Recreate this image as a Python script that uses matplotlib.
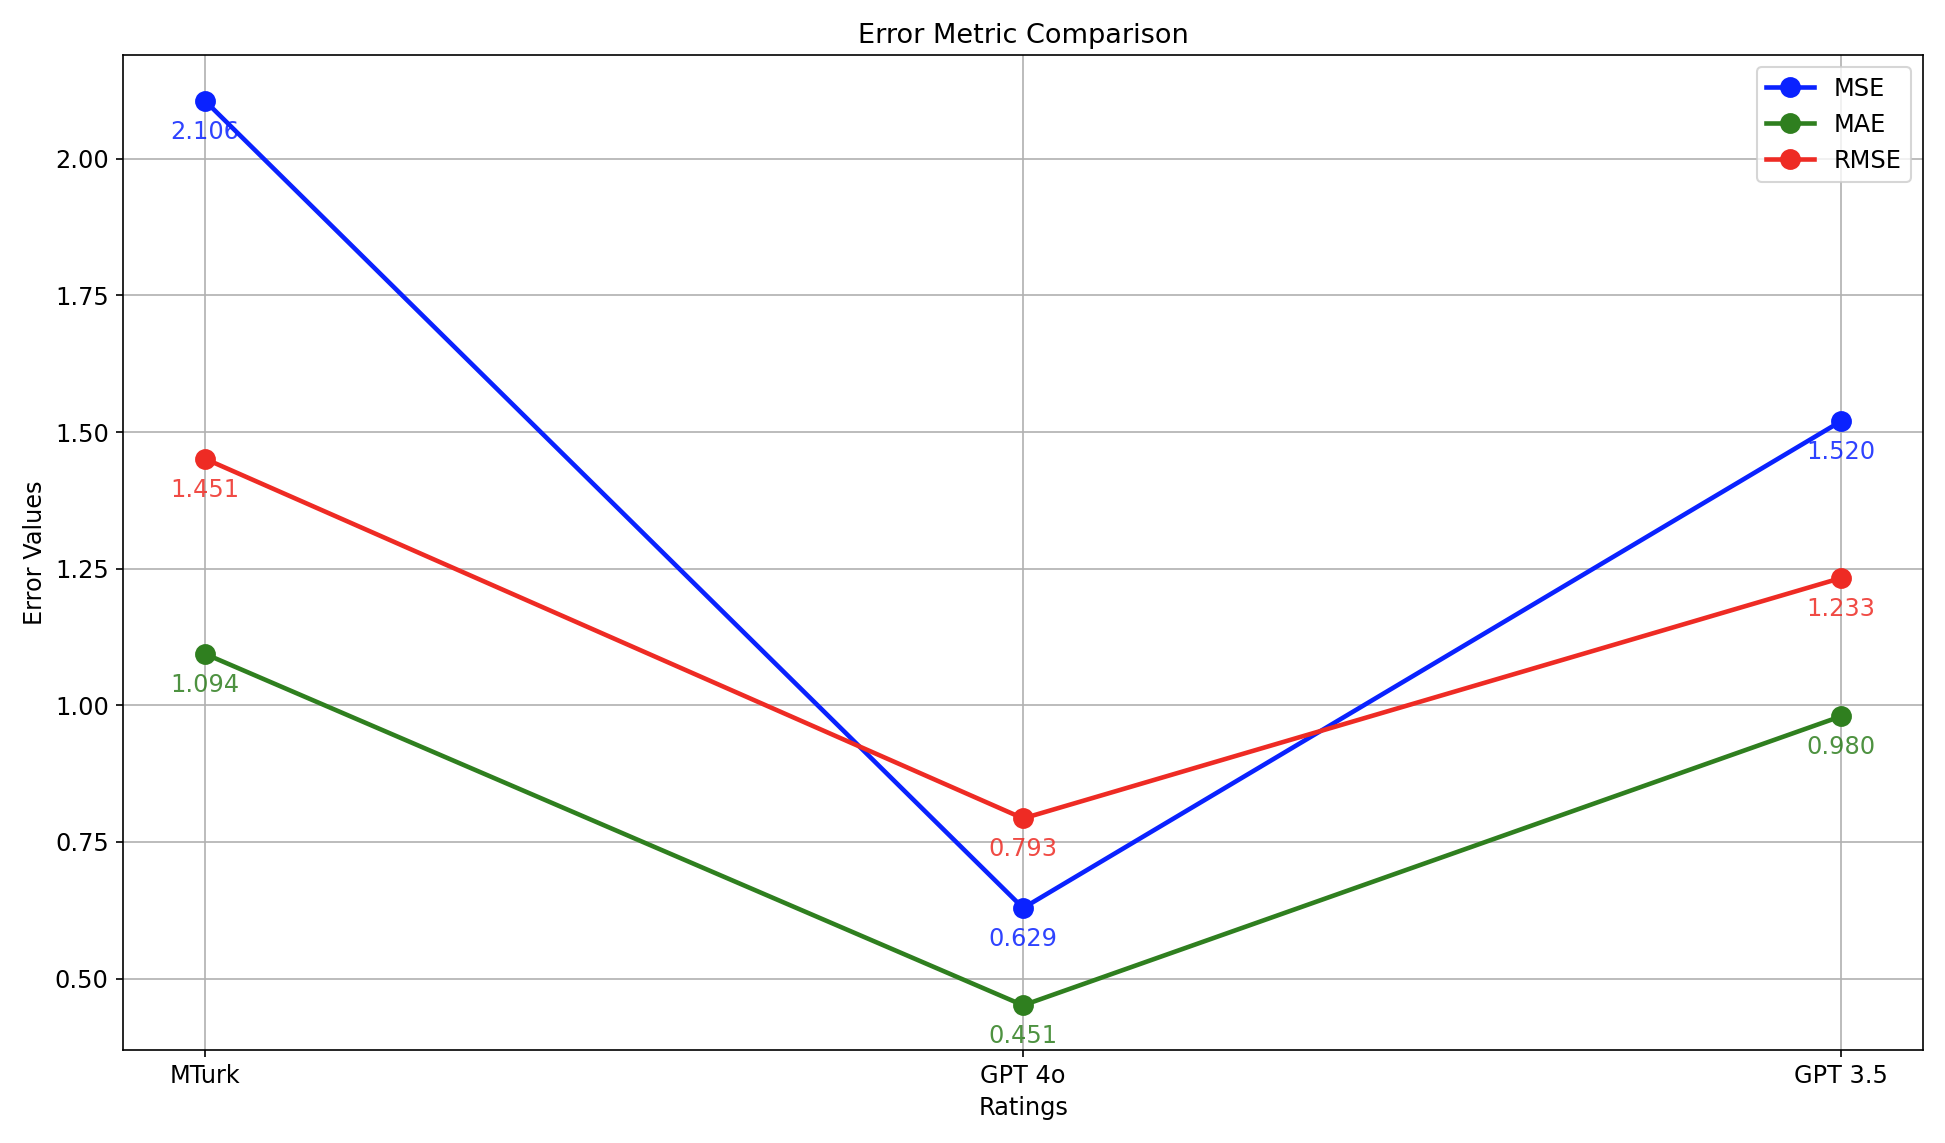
import matplotlib
matplotlib.use("Agg")
import matplotlib.pyplot as plt

# data
models = ["MTurk", "GPT 4o", "GPT 3.5"]
mse = [2.106, 0.629, 1.520]
mae = [1.094, 0.451, 0.980]
rmse = [1.451, 0.793, 1.233]

series = [("MSE", mse, "#0a22ff"), ("MAE", mae, "#2f7f1f"), ("RMSE", rmse, "#ee2b24")]

fig, ax = plt.subplots(figsize=(12.97, 7.62), dpi=150)

for name, vals, col in series:
    ax.plot(models, vals, "-o", color=col, lw=2.2, ms=9, label=name)
    for x, v in zip(models, vals):
        ax.annotate("{0:.3f}".format(v), (x, v), xytext=(0, -9), textcoords="offset points",
                    ha="center", va="top", color=col, fontsize=11.5, alpha=0.85)

ax.set_title("Error Metric Comparison", fontsize=13)
ax.set_xlabel("Ratings", fontsize=11.5)
ax.set_ylabel("Error Values", fontsize=11.5)
ax.tick_params(labelsize=11.5)
ax.set_yticks([0.5, 0.75, 1.0, 1.25, 1.5, 1.75, 2.0])
ax.set_ylim(0.37, 2.19)
ax.set_xlim(-0.1, 2.1)
ax.grid(True)
ax.legend(loc="upper right", fontsize=11.5)

plt.tight_layout()
plt.savefig("out.png")
